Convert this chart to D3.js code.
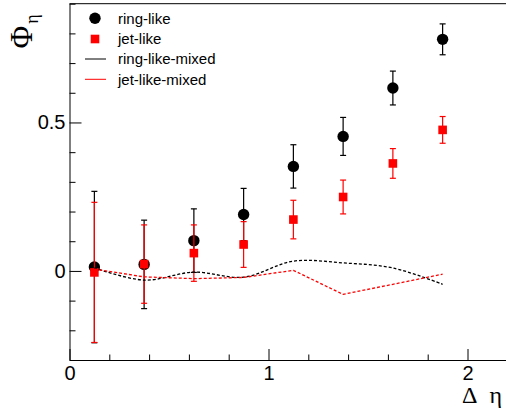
<!DOCTYPE html>
<html><head><meta charset="utf-8">
<script src="https://cdn.jsdelivr.net/npm/d3@7"></script>
<style>body{margin:0;background:#fff}svg{display:block}</style>
</head><body><svg id="c" width="506" height="410"></svg>
<script>
// ---- data ----
const deta = [0.125, 0.375, 0.625, 0.875, 1.125, 1.375, 1.625, 1.875];
const ringVals = [0.013, 0.022, 0.102, 0.190, 0.352, 0.453, 0.616, 0.780];
const ringErr  = [0.255, 0.149, 0.107, 0.088, 0.073, 0.064, 0.057, 0.052];
const jetVals  = [-0.005, 0.023, 0.060, 0.089, 0.173, 0.249, 0.362, 0.475];
const jetErr   = [0.236, 0.132, 0.095, 0.077, 0.065, 0.057, 0.050, 0.045];
const ringMixed = [0.010, -0.031, -0.004, -0.021, 0.033, 0.027, 0.010, -0.045];
const jetMixed  = [0.006, -0.020, -0.026, -0.022, 0.002, -0.079, -0.045, -0.011];
const xMajorTicks = [0, 1, 2];
const xMinorTicks = [0.2, 0.4, 0.6, 0.8, 1.2, 1.4, 1.6, 1.8, 2.2];
const yMajorTicks = [0, 0.5];
const yMinorTicks = [-0.3, -0.2, -0.1, 0.1, 0.2, 0.3, 0.4, 0.6, 0.7, 0.8, 0.9];
const legendLabels = ["ring-like", "jet-like", "ring-like-mixed", "jet-like-mixed"];
const xTitleParts = ["Δ", "η"];

// ---- drawing ----
const svg = d3.select("#c");
const x = d3.scaleLinear([0, 2.2], [69.5, 507.3]);
const y = d3.scaleLinear([-0.3, 0.9], [360, 3.7]);
const font = "'Liberation Sans', Arial, Helvetica, sans-serif";
const serif = "'Liberation Serif', 'Times New Roman', serif";

// frame top line
svg.append("line").attr("x1", x(0)).attr("x2", 506).attr("y1", y(0.9)).attr("y2", y(0.9))
  .attr("stroke", "#000").attr("stroke-width", 1);

// x axis
const gx = svg.append("g").attr("transform", `translate(0,${y(-0.3)})`);
gx.call(d3.axisBottom(x).tickValues(xMajorTicks).tickSize(-11).tickSizeOuter(0).tickPadding(6)
  .tickFormat(d3.format("d")));
const gxm = svg.append("g").attr("transform", `translate(0,${y(-0.3)})`);
gxm.call(d3.axisBottom(x).tickValues(xMinorTicks).tickSize(-5.5).tickFormat(""));
gxm.select(".domain").remove();

// y axis
const gy = svg.append("g").attr("transform", `translate(${x(0)},0)`);
gy.call(d3.axisLeft(y).tickValues(yMajorTicks).tickSize(-12).tickSizeOuter(0).tickPadding(4)
  .tickFormat(d => d === 0 ? "0" : d3.format(".1f")(d)));
const gym = svg.append("g").attr("transform", `translate(${x(0)},0)`);
gym.call(d3.axisLeft(y).tickValues(yMinorTicks).tickSize(-6).tickFormat(""));
gym.select(".domain").remove();

svg.selectAll(".tick text").attr("font-family", font).attr("font-size", 20).attr("fill", "#000");
svg.selectAll(".domain, .tick line").attr("stroke", "#000").attr("stroke-width", 1);

// axis titles
const xt = svg.append("text").attr("y", 403).attr("font-family", serif).attr("font-size", 24);
xt.append("tspan").attr("x", 462).text(xTitleParts[0]);
xt.append("tspan").attr("x", 489.5).text(xTitleParts[1]);

const yt = svg.append("text").attr("transform", "translate(31.5,48.5) rotate(-90)")
  .attr("font-family", serif).attr("font-size", 31);
yt.append("tspan").text("Φ");
yt.append("tspan").attr("font-size", 18).attr("dy", 6).attr("dx", 2).text("η");

// series
function drawErr(vals, errs, color) {
  const g = svg.append("g").attr("stroke", color).attr("stroke-width", 1.2);
  deta.forEach((d, i) => {
    const cx = x(d), y1 = y(vals[i] + errs[i]), y2 = y(vals[i] - errs[i]);
    g.append("line").attr("x1", cx).attr("x2", cx).attr("y1", y1).attr("y2", y2);
    g.append("line").attr("x1", cx - 3).attr("x2", cx + 3).attr("y1", y1).attr("y2", y1);
    g.append("line").attr("x1", cx - 3).attr("x2", cx + 3).attr("y1", y2).attr("y2", y2);
  });
}
drawErr(ringVals, ringErr, "#000");
svg.append("g").selectAll("circle").data(deta).join("circle")
  .attr("cx", d => x(d)).attr("cy", (d, i) => y(ringVals[i])).attr("r", 5.7).attr("fill", "#000");
drawErr(jetVals, jetErr, "#f00");
svg.append("g").selectAll("rect").data(deta).join("rect")
  .attr("x", d => x(d) - 4.3).attr("y", (d, i) => y(jetVals[i]) - 4.3)
  .attr("width", 8.6).attr("height", 8.6).attr("fill", "#f00");

// mixed lines
const lineRing = d3.line().x((d, i) => x(deta[i])).y(d => y(d)).curve(d3.curveCatmullRom);
const lineJet = d3.line().x((d, i) => x(deta[i])).y(d => y(d));
svg.append("path").attr("d", lineRing(ringMixed)).attr("fill", "none").attr("stroke", "#000")
  .attr("stroke-width", 1.3).attr("stroke-dasharray", "3,2");
svg.append("path").attr("d", lineJet(jetMixed)).attr("fill", "none").attr("stroke", "#f00")
  .attr("stroke-width", 1.3).attr("stroke-dasharray", "3,2");

// legend
const lg = svg.append("g").attr("font-family", font).attr("font-size", 15);
const rows = [18.3, 39, 59, 79.3];
lg.append("circle").attr("cx", 95).attr("cy", rows[0]).attr("r", 5.7).attr("fill", "#000");
lg.append("rect").attr("x", 95 - 4.3).attr("y", rows[1] - 4.3).attr("width", 8.6).attr("height", 8.6).attr("fill", "#f00");
lg.append("line").attr("x1", 85).attr("x2", 106).attr("y1", rows[2]).attr("y2", rows[2]).attr("stroke", "#000").attr("stroke-width", 1);
lg.append("line").attr("x1", 85).attr("x2", 106).attr("y1", rows[3]).attr("y2", rows[3]).attr("stroke", "#f00").attr("stroke-width", 1);
legendLabels.forEach((t, i) => {
  lg.append("text").attr("x", 118).attr("y", rows[i]).attr("dy", "0.35em").text(t);
});
</script></body></html>
